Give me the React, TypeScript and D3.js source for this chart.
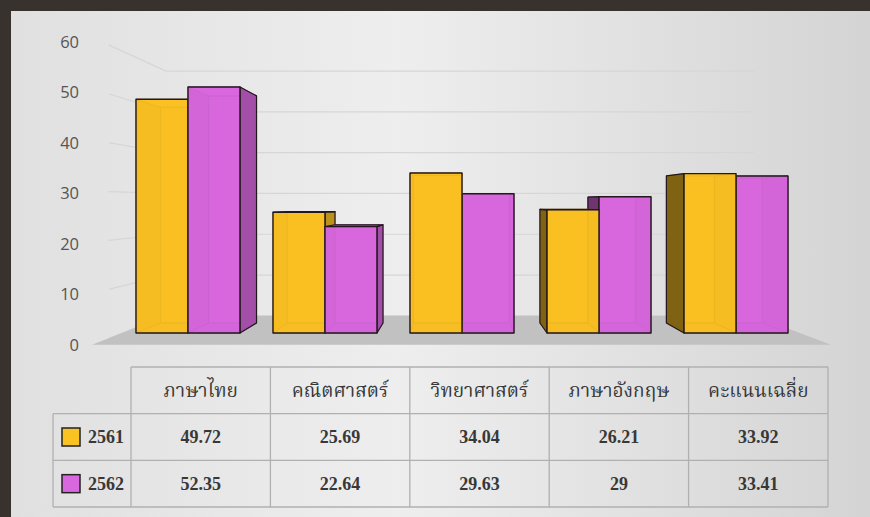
import * as d3 from "d3";
import { useEffect, useRef } from "react";

const subjects = ["ภาษาไทย", "คณิตศาสตร์", "วิทยาศาสตร์", "ภาษาอังกฤษ", "คะแนนเฉลี่ย"];
const years = ["2561", "2562"];
const scores2561 = [49.72, 25.69, 34.04, 26.21, 33.92];
const scores2562 = [52.35, 22.64, 29.63, 29, 33.41];
const yTicks = [0, 10, 20, 30, 40, 50, 60];
const seriesColors = ["#fbc223", "#d968df"];

const W = 870;
const H = 517;
const thaiFont = "Norasi, 'Noto Serif Thai', 'Liberation Serif', serif";

type Pt = [number, number];

export default function App() {
  const svgRef = useRef<SVGSVGElement>(null);

  useEffect(() => {
    const svg = d3.select(svgRef.current);
    svg.selectAll("*").remove();
    svg.attr("width", W).attr("height", H);

    // background frame + panel gradient
    const defs = svg.append("defs");
    const grad = defs
      .append("linearGradient")
      .attr("id", "panel")
      .attr("x1", 0)
      .attr("x2", 1)
      .attr("y1", 0)
      .attr("y2", 0);
    grad.append("stop").attr("offset", "0%").attr("stop-color", "#e0e0e0");
    grad.append("stop").attr("offset", "45%").attr("stop-color", "#eeeeee");
    grad.append("stop").attr("offset", "100%").attr("stop-color", "#d4d4d4");

    svg.append("rect").attr("width", W).attr("height", H).attr("fill", "#38322f");
    svg
      .append("rect")
      .attr("x", 11)
      .attr("y", 11)
      .attr("width", W - 11)
      .attr("height", H - 11)
      .attr("fill", "url(#panel)");

    // scales (front plane of the bars)
    const x = d3.scaleBand<string>().domain(subjects).range([136, 788]).paddingInner(0.241);
    const xs = d3.scaleBand<string>().domain(years).range([0, x.bandwidth()]);
    const y = d3.scaleLinear().domain([0, 60]).range([333, 51]);

    // simple one-point perspective
    const vp: Pt = [455, 203];
    const proj = (px: number, py: number, k: number): Pt => [
      vp[0] + k * (px - vp[0]),
      vp[1] + k * (py - vp[1]),
    ];
    const kBar = 0.923;
    const kWall = 0.868;
    const kFloor = 1.09;
    const kLabel = 1.075;
    const wallL = 122;
    const wallR = 800;
    const pts = (p: Pt[]) => p.map((d) => d.join(",")).join(" ");

    // gridlines on side wall + back wall
    const grid = svg
      .append("g")
      .attr("fill", "none")
      .attr("stroke", "#d6d6d6")
      .attr("stroke-width", 1.2);
    yTicks.forEach((t) => {
      grid
        .append("polyline")
        .attr("points", pts([proj(wallL, y(t), 1.04), proj(wallL, y(t), kWall), proj(wallR, y(t), kWall)]));
    });

    // floor
    svg
      .append("polygon")
      .attr(
        "points",
        pts([
          proj(wallL, y(0), kWall),
          proj(wallR, y(0), kWall),
          proj(wallR, y(0), kFloor),
          proj(wallL, y(0), kFloor),
        ])
      )
      .attr("fill", "#c1c1c1");

    // y labels
    svg
      .append("g")
      .selectAll("text")
      .data(yTicks)
      .join("text")
      .attr("x", 79)
      .attr("y", (d) => proj(wallL, y(d), kLabel)[1] + 2)
      .attr("dy", "0.36em")
      .attr("text-anchor", "end")
      .attr("font-family", "'Open Sans', sans-serif")
      .attr("font-size", 16.5)
      .attr("fill", "#555555")
      .text((d) => d);

    // bars, drawn far-from-centre first
    const values = [scores2561, scores2562];
    const bars = subjects.flatMap((s, i) =>
      years.map((yr, j) => {
        const x0 = (x(s) ?? 0) + (xs(yr) ?? 0);
        return { value: values[j][i], color: seriesColors[j], x0, x1: x0 + xs.bandwidth() };
      })
    );
    bars.sort((a, b) => Math.abs(b.x0 + b.x1 - 2 * vp[0]) - Math.abs(a.x0 + a.x1 - 2 * vp[0]));

    const edge = "#24181f";
    const barG = svg.append("g").attr("stroke-linejoin", "round");
    bars.forEach((b) => {
      const yt = y(b.value);
      const yb = y(0);
      const ftl: Pt = [b.x0, yt];
      const ftr: Pt = [b.x1, yt];
      const fbr: Pt = [b.x1, yb];
      const fbl: Pt = [b.x0, yb];
      const btl = proj(b.x0, yt, kBar);
      const btr = proj(b.x1, yt, kBar);
      const bbr = proj(b.x1, yb, kBar);
      const bbl = proj(b.x0, yb, kBar);
      const c = d3.color(b.color)!;
      const inner = c.darker(1.1).copy({ opacity: 0.75 }).formatRgb();
      const g = barG.append("g");
      const face = (p: Pt[], fill: string, stroke: string, sw: number, op = 1) =>
        g
          .append("polygon")
          .attr("points", pts(p))
          .attr("fill", fill)
          .attr("fill-opacity", op)
          .attr("stroke", stroke)
          .attr("stroke-width", sw);

      const leftVis = b.x0 > vp[0];
      const rightVis = b.x1 < vp[0];
      const topVis = yt > vp[1];

      // hidden faces, seen through the front
      face([btl, btr, bbr, bbl], c.darker(0.1).formatRgb(), inner, 1);
      if (!leftVis) face([ftl, btl, bbl, fbl], c.darker(0.4).formatRgb(), inner, 1);
      if (!rightVis) face([ftr, btr, bbr, fbr], c.darker(0.4).formatRgb(), inner, 1);
      face([fbl, fbr, bbr, bbl], c.darker(0.3).formatRgb(), inner, 1);
      if (!topVis) face([ftl, ftr, btr, btl], c.darker(0.05).formatRgb(), inner, 1);

      // visible faces
      if (leftVis) face([ftl, btl, bbl, fbl], c.darker(1.9).formatRgb(), edge, 1.2);
      if (rightVis) face([ftr, btr, bbr, fbr], c.darker(0.8).formatRgb(), edge, 1.2);
      if (topVis) face([ftl, ftr, btr, btl], c.darker(0.6).formatRgb(), edge, 1.2);
      face([ftl, ftr, fbr, fbl], b.color, edge, 1.4, 0.8);
    });

    // data table
    const col = d3.scaleBand<string>().domain(subjects).range([131, 828]);
    const row = d3.scaleBand<string>().domain(["head", ...years]).range([367, 507]);
    const tableLeft = 53;
    const tbl = svg.append("g").attr("stroke", "#b0b0b0").attr("stroke-width", 1.3);
    const hline = (x1: number, x2: number, yy: number) =>
      tbl.append("line").attr("x1", x1).attr("x2", x2).attr("y1", yy).attr("y2", yy);
    const vline = (xx: number, y1: number, y2: number) =>
      tbl.append("line").attr("x1", xx).attr("x2", xx).attr("y1", y1).attr("y2", y2);
    const top = row("head") ?? 0;
    const r1 = row(years[0]) ?? 0;
    const bottom = row.range()[1];
    hline(col.range()[0], col.range()[1], top);
    hline(tableLeft, col.range()[1], r1);
    years.forEach((yr) => hline(tableLeft, col.range()[1], (row(yr) ?? 0) + row.bandwidth()));
    vline(tableLeft, r1, bottom);
    subjects.forEach((s) => vline(col(s) ?? 0, top, bottom));
    vline(col.range()[1], top, bottom);

    const textG = svg.append("g").attr("fill", "#383838").attr("text-anchor", "middle");
    subjects.forEach((s) => {
      textG
        .append("text")
        .attr("x", (col(s) ?? 0) + col.bandwidth() / 2)
        .attr("y", top + row.bandwidth() / 2)
        .attr("dy", "0.35em")
        .attr("font-family", thaiFont)
        .attr("font-size", 19)
        .text(s);
    });
    years.forEach((yr, j) => {
      const cy = (row(yr) ?? 0) + row.bandwidth() / 2;
      svg
        .append("rect")
        .attr("x", 62)
        .attr("y", cy - 9)
        .attr("width", 18)
        .attr("height", 18)
        .attr("fill", seriesColors[j])
        .attr("stroke", "#222")
        .attr("stroke-width", 1.5);
      textG
        .append("text")
        .attr("x", 88)
        .attr("y", cy)
        .attr("dy", "0.35em")
        .attr("text-anchor", "start")
        .attr("font-family", "'Liberation Serif', serif")
        .attr("font-weight", "bold")
        .attr("font-size", 18)
        .text(yr);
      subjects.forEach((s, i) => {
        textG
          .append("text")
          .attr("x", (col(s) ?? 0) + col.bandwidth() / 2)
          .attr("y", cy)
          .attr("dy", "0.35em")
          .attr("font-family", "'Liberation Serif', serif")
          .attr("font-weight", "bold")
          .attr("font-size", 18)
          .text(String(values[j][i]));
      });
    });
  }, []);

  return <svg ref={svgRef} style={{ position: "absolute", left: 0, top: 0 }} />;
}
